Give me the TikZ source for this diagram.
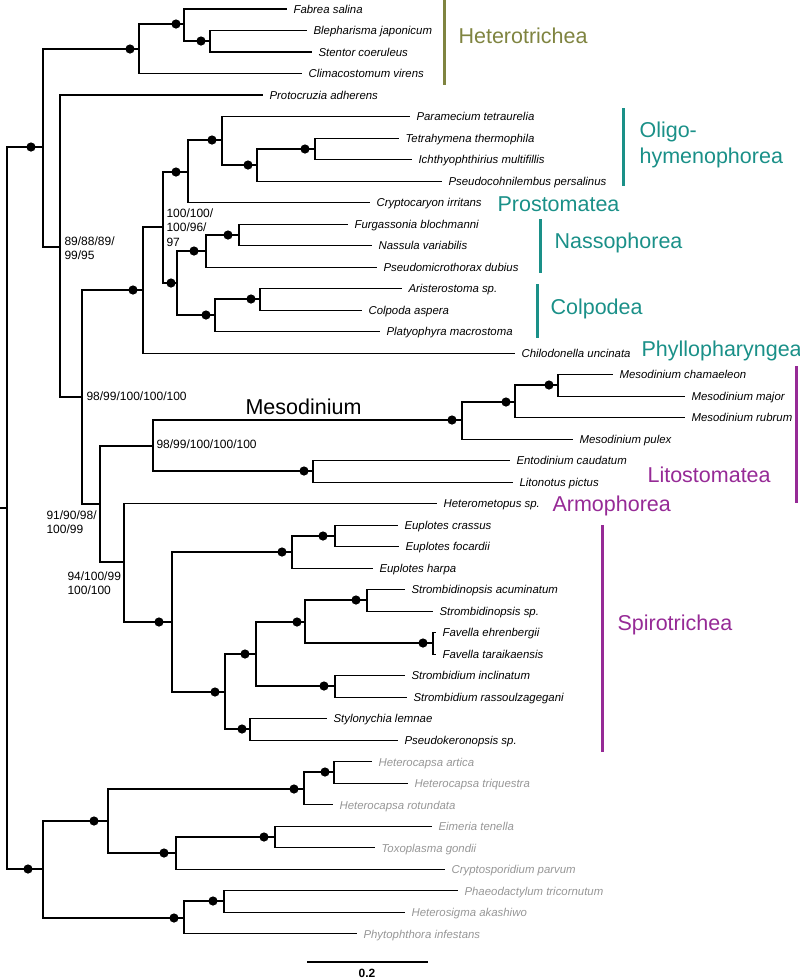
\documentclass[tikz,border=0pt]{standalone}
\usepackage{fontspec}
\setmainfont{Liberation Sans}
\definecolor{olivec}{RGB}{127,132,64}
\definecolor{tealc}{RGB}{26,144,136}
\definecolor{purplec}{RGB}{150,42,150}
\definecolor{outgray}{RGB}{150,150,150}

\begin{document}
\begin{tikzpicture}[x=1pt, y=-1pt, line width=1.1pt,
    taxon/.style={anchor=west, inner xsep=6pt, inner ysep=0pt, text height=8.2pt, text depth=0pt,
      font=\fontsize{11.4}{13}\selectfont\itshape},
    outtaxon/.style={taxon, text=outgray},
    grp/.style={anchor=base west, inner sep=0pt, font=\fontsize{21.5}{26}\selectfont},
    grpbar/.style={line width=3pt},
    bs/.style={anchor=north west, inner sep=0pt, align=left, font=\fontsize{12}{14.5}\selectfont}]
  \useasboundingbox (0,0) rectangle (800,978);

  % internal nodes of the tree
  \coordinate (stem) at (0,508);
  \coordinate (root) at (7,508);
  \coordinate (cil) at (43,147);
  \coordinate (het) at (139,49);
  \coordinate (het1) at (184,24);
  \coordinate (het2) at (210,41);
  \coordinate (rest1) at (60,247);
  \coordinate (rest2) at (82,397);
  \coordinate (cont) at (143,290);
  \coordinate (cont2) at (163,227);
  \coordinate (oli) at (188,172);
  \coordinate (oli1) at (222,140);
  \coordinate (oli2) at (257,165);
  \coordinate (oli3) at (315,149);
  \coordinate (nc) at (177,283);
  \coordinate (nas) at (206,251);
  \coordinate (nas1) at (239,235);
  \coordinate (col) at (215,315);
  \coordinate (col1) at (260,299);
  \coordinate (rest3) at (100,504);
  \coordinate (lit) at (153,446);
  \coordinate (mes) at (462,420);
  \coordinate (mes1) at (515,402);
  \coordinate (mes2) at (558,385);
  \coordinate (lit1) at (313,471);
  \coordinate (as) at (124,562);
  \coordinate (spi) at (172,622);
  \coordinate (eup) at (292,552);
  \coordinate (eup1) at (335,536);
  \coordinate (spi1) at (225,692);
  \coordinate (spi2) at (256,654);
  \coordinate (spi3) at (305,622);
  \coordinate (strp) at (367,600);
  \coordinate (fav) at (433,643);
  \coordinate (strm) at (335,686);
  \coordinate (sty) at (250,729);
  \coordinate (out) at (43,869);
  \coordinate (alv) at (108,821);
  \coordinate (din) at (304,789);
  \coordinate (din1) at (334,772);
  \coordinate (api) at (176,853);
  \coordinate (api1) at (275,837);
  \coordinate (str) at (184,918);
  \coordinate (str1) at (224,901);

  % taxa
  \node[taxon] (fabrea) at (287,9) {Fabrea salina};
  \node[taxon] (blepha) at (307,30.5) {Blepharisma japonicum};
  \node[taxon] (stentor) at (312,52) {Stentor coeruleus};
  \node[taxon] (climaco) at (302,73.5) {Climacostomum virens};
  \node[taxon] (protocr) at (263,95) {Protocruzia adherens};
  \node[taxon] (parame) at (410,116.6) {Paramecium tetraurelia};
  \node[taxon] (tetrahy) at (399,138.1) {Tetrahymena thermophila};
  \node[taxon] (ichthyo) at (412,159.6) {Ichthyophthirius multifillis};
  \node[taxon] (pseudoc) at (442,181.1) {Pseudocohnilembus persalinus};
  \node[taxon] (cryptoc) at (370,202.6) {Cryptocaryon irritans};
  \node[taxon] (furgass) at (348,224.1) {Furgassonia blochmanni};
  \node[taxon] (nassula) at (372,245.6) {Nassula variabilis};
  \node[taxon] (pseudom) at (377,267.1) {Pseudomicrothorax dubius};
  \node[taxon] (aristero) at (402,288.6) {Aristerostoma sp.};
  \node[taxon] (colpoda) at (362,310.1) {Colpoda aspera};
  \node[taxon] (platyo) at (380,331.7) {Platyophyra macrostoma};
  \node[taxon] (chilodo) at (515,353.2) {Chilodonella uncinata};
  \node[taxon] (mchama) at (613,374.7) {Mesodinium chamaeleon};
  \node[taxon] (mmajor) at (685,396.2) {Mesodinium major};
  \node[taxon] (mrubrum) at (685,417.7) {Mesodinium rubrum};
  \node[taxon] (mpulex) at (573,439.2) {Mesodinium pulex};
  \node[taxon] (entodin) at (510,460.7) {Entodinium caudatum};
  \node[taxon] (litonot) at (513,482.2) {Litonotus pictus};
  \node[taxon] (heterom) at (437,503.7) {Heterometopus sp.};
  \node[taxon] (ecrass) at (398,525.2) {Euplotes crassus};
  \node[taxon] (efocar) at (399,546.8) {Euplotes focardii};
  \node[taxon] (eharpa) at (373,568.3) {Euplotes harpa};
  \node[taxon] (sacumi) at (405,589.8) {Strombidinopsis acuminatum};
  \node[taxon] (strsp) at (433,611.3) {Strombidinopsis sp.};
  \node[taxon] (fehren) at (436,632.8) {Favella ehrenbergii};
  \node[taxon] (ftarai) at (436,654.3) {Favella taraikaensis};
  \node[taxon] (sinclin) at (405,675.8) {Strombidium inclinatum};
  \node[taxon] (srassou) at (407,697.3) {Strombidium rassoulzagegani};
  \node[taxon] (stylon) at (327,718.8) {Stylonychia lemnae};
  \node[taxon] (pseudok) at (398,740.3) {Pseudokeronopsis sp.};
  \node[outtaxon] (hartica) at (372,761.9) {Heterocapsa artica};
  \node[outtaxon] (htrique) at (408,783.4) {Heterocapsa triquestra};
  \node[outtaxon] (hrotund) at (333,804.9) {Heterocapsa rotundata};
  \node[outtaxon] (eimeria) at (432,826.4) {Eimeria tenella};
  \node[outtaxon] (toxopl) at (375,847.9) {Toxoplasma gondii};
  \node[outtaxon] (cryptos) at (445,869.4) {Cryptosporidium parvum};
  \node[outtaxon] (phaeod) at (458,890.9) {Phaeodactylum tricornutum};
  \node[outtaxon] (heteros) at (405,912.4) {Heterosigma akashiwo};
  \node[outtaxon] (phytop) at (357,933.9) {Phytophthora infestans};

  % branches
  \draw (stem) -- (root);
  \foreach \p/\c in {root/cil, root/out, cil/het, cil/rest1, het/het1, het/climaco.west,
      het1/fabrea.west, het1/het2, het2/blepha.west, het2/stentor.west,
      rest1/protocr.west, rest1/rest2, rest2/cont, rest2/rest3,
      cont/cont2, cont/chilodo.west, cont2/oli, cont2/nc,
      oli/oli1, oli/cryptoc.west, oli1/parame.west, oli1/oli2,
      oli2/oli3, oli2/pseudoc.west, oli3/tetrahy.west, oli3/ichthyo.west,
      nc/nas, nc/col, nas/nas1, nas/pseudom.west, nas1/furgass.west, nas1/nassula.west,
      col/col1, col/platyo.west, col1/aristero.west, col1/colpoda.west,
      rest3/lit, rest3/as, lit/mes, lit/lit1, mes/mes1, mes/mpulex.west,
      mes1/mes2, mes1/mrubrum.west, mes2/mchama.west, mes2/mmajor.west,
      lit1/entodin.west, lit1/litonot.west,
      as/heterom.west, as/spi, spi/eup, spi/spi1, eup/eup1, eup/eharpa.west,
      eup1/ecrass.west, eup1/efocar.west, spi1/spi2, spi1/sty,
      spi2/spi3, spi2/strm, spi3/strp, spi3/fav, strp/sacumi.west, strp/strsp.west,
      fav/fehren.west, fav/ftarai.west, strm/sinclin.west, strm/srassou.west,
      sty/stylon.west, sty/pseudok.west,
      out/alv, out/str, alv/din, alv/api, din/din1, din/hrotund.west,
      din1/hartica.west, din1/htrique.west, api/api1, api/cryptos.west,
      api1/eimeria.west, api1/toxopl.west, str/str1, str/phytop.west,
      str1/phaeod.west, str1/heteros.west}
    \draw (\p) |- (\c);

  % support dots
  \foreach \x/\y in {31/147, 130/49, 176/24, 201/41, 133/290, 176/172, 212/140, 248/165,
      305/149, 171/283, 194/251, 228/235, 206/315, 251/299, 452/420, 506/402, 549/385,
      304/471, 159/622, 282/552, 323/536, 215/692, 245/654, 297/622, 356/600, 423/643,
      324/686, 242/729, 28/869, 94/821, 294/789, 325/772, 164/853, 264/837, 174/918, 213/901}
    \fill (\x,\y) circle (4.6);

  % support values
  \node[bs] (bsa) at (64,236) {89/88/89/\\99/95};
  \node[bs] (bsb) at (166,208.2) {100/100/\\100/96/\\97};
  \node[bs] (bsc) at (86,391.2) {98/99/100/100/100};
  \node[bs] (bsd) at (156,439.2) {98/99/100/100/100};
  \node[bs] (bse) at (46,510.2) {91/90/98/\\100/99};
  \node[bs] (bsf) at (67,571.2) {94/100/99\\100/100};

  % groups
  \draw[grpbar, olivec] (444,0) -- (444,85);
  \node[grp, text=olivec] (hetlab) at (458,43) {Heterotrichea};
  \draw[grpbar, tealc] (623,108) -- (623,186);
  \node[grp, text=tealc] (olilab) at (639,137) {Oligo-};
  \node[grp, text=tealc] (olilab2) at (639,163) {hymenophorea};
  \node[grp, text=tealc] (prolab) at (497,211) {Prostomatea};
  \draw[grpbar, tealc] (540,219) -- (540,273);
  \node[grp, text=tealc] (naslab) at (554,248) {Nassophorea};
  \draw[grpbar, tealc] (537,284) -- (537,338);
  \node[grp, text=tealc] (collab) at (550,314) {Colpodea};
  \node[grp, text=tealc] (phylab) at (641,356) {Phyllopharyngea};
  \node[grp] (meslab) at (245,414) {Mesodinium};
  \draw[grpbar, purplec] (796,366) -- (796,503);
  \node[grp, text=purplec] (litlab) at (647,482) {Litostomatea};
  \node[grp, text=purplec] (armlab) at (552,511) {Armophorea};
  \draw[grpbar, purplec] (602,525) -- (602,752);
  \node[grp, text=purplec] (spilab) at (617,630) {Spirotrichea};

  % scale bar
  \coordinate (sb1) at (307,962);
  \coordinate (sb2) at (428,962);
  \draw (sb1) -- (sb2);
  \node[anchor=base, inner sep=0pt, font=\fontsize{12}{14}\selectfont\bfseries] (sblab) at (367,977) {0.2};
\end{tikzpicture}
\end{document}
